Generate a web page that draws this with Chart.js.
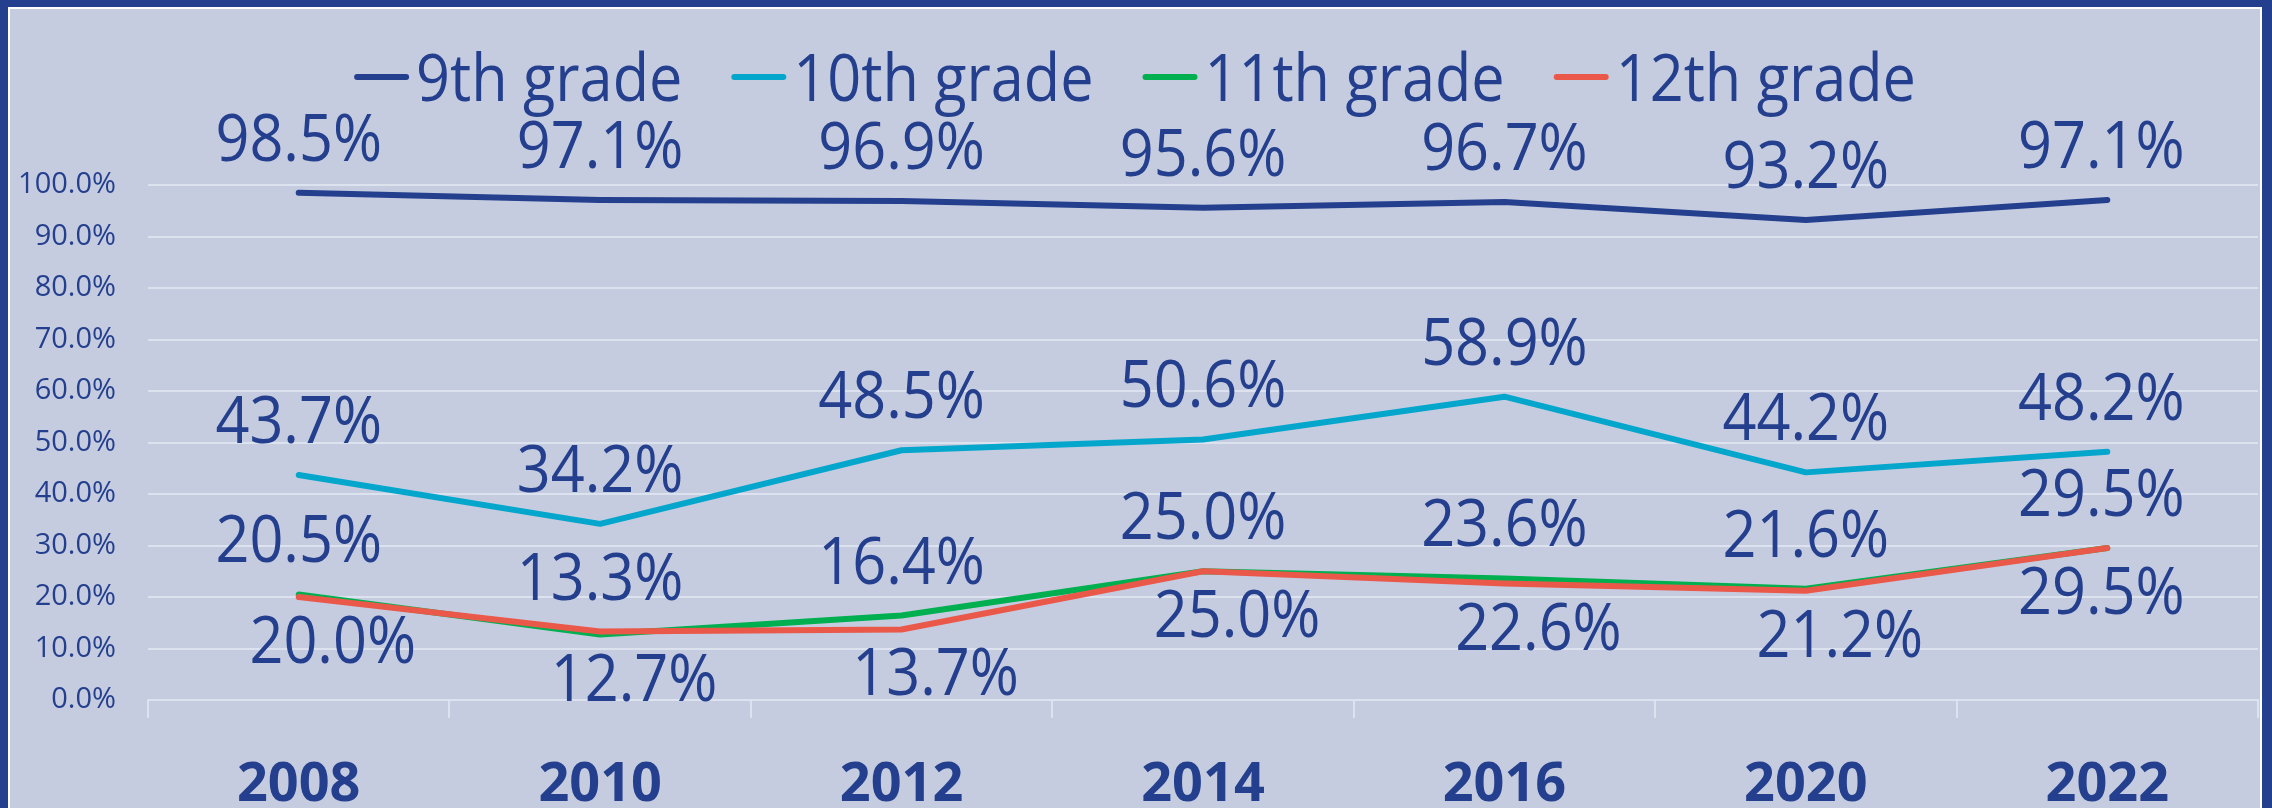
<!DOCTYPE html>
<html>
<head>
<meta charset="utf-8">
<script src="https://cdn.jsdelivr.net/npm/chart.js@4"></script>
<style>
  html, body { margin: 0; padding: 0; }
  body { width: 2272px; height: 808px; background: #243f8d; position: relative; overflow: hidden; }
  .frame { position: absolute; left: 8px; top: 7px; width: 2254px; height: 801px; box-sizing: border-box;
           border: 2px solid #ffffff; border-bottom: none; background: #c6cce0; }
  canvas { display: block; }
</style>
</head>
<body>
<div class="frame"><canvas id="chart" width="2250" height="799"></canvas></div>
<script>
// values
const years = ['2008', '2010', '2012', '2014', '2016', '2020', '2022'];
const grade9 = [98.5, 97.1, 96.9, 95.6, 96.7, 93.2, 97.1];
const grade10 = [43.7, 34.2, 48.5, 50.6, 58.9, 44.2, 48.2];
const grade11 = [20.5, 12.7, 16.4, 25.0, 23.6, 21.6, 29.5];
const grade12 = [20.0, 13.3, 13.7, 25.0, 22.6, 21.2, 29.5];
const seriesNames = ['9th grade', '10th grade', '11th grade', '12th grade'];
const yTicks = [0, 10, 20, 30, 40, 50, 60, 70, 80, 90, 100];

const TEXT = '#243f8d';
const GRID = '#dde2ef';
const FONT = '"Open Sans", "Noto Sans", sans-serif';
const colors = ['#243f8d', '#05a6cc', '#00b050', '#ea5849'];
const BIG = 66, SQUEEZE = 0.9;   // label / legend text, narrowed like the original

function squeezedText(ctx, text, x, y){
  ctx.save();
  ctx.translate(x, y);
  ctx.scale(SQUEEZE, 1);
  ctx.fillText(text, 0, 0);
  ctx.restore();
}

// value labels: 9th/10th above; for 11th/12th the higher one goes above, the lower one below and a bit right
const valueLabels = {
  id: 'valueLabels',
  afterDatasetsDraw(chart){
    const ctx = chart.ctx;
    const sets = chart.data.datasets;
    const last = chart.data.labels.length - 1;
    ctx.save();
    ctx.font = `400 ${BIG}px ${FONT}`;
    ctx.fillStyle = TEXT;
    ctx.textAlign = 'center';
    ctx.textBaseline = 'alphabetic';
    sets.forEach((ds, i) => {
      chart.getDatasetMeta(i).data.forEach((pt, j) => {
        const v = ds.data[j];
        let below = false;
        if (i === 2) below = v < sets[3].data[j];
        if (i === 3) below = v <= sets[2].data[j];
        // last column is nudged left to stay clear of the frame
        const x = j === last ? pt.x - 6 : (below ? pt.x + 34 : pt.x);
        const y = below ? pt.y + 66 : pt.y - 32;
        squeezedText(ctx, v.toFixed(1) + '%', x, y);
      });
    });
    ctx.restore();
  }
};

// legend drawn by hand: short thick line, then the name right after it
const lineLegend = {
  id: 'lineLegend',
  afterDraw(chart){
    const ctx = chart.ctx;
    const sets = chart.data.datasets;
    const lineLen = 55, gapIn = 7, gapOut = 49, lineY = 68, textY = 92;
    ctx.save();
    ctx.font = `400 ${BIG}px ${FONT}`;
    const widths = sets.map(ds => ctx.measureText(ds.label).width * SQUEEZE);
    const total = widths.reduce((a, w) => a + lineLen + gapIn + w, 0) + gapOut * (sets.length - 1);
    let x = chart.width / 2 - total / 2;
    sets.forEach((ds, i) => {
      ctx.strokeStyle = ds.borderColor;
      ctx.lineWidth = 6;
      ctx.lineCap = 'round';
      ctx.beginPath();
      ctx.moveTo(x + 3, lineY);
      ctx.lineTo(x + lineLen - 3, lineY);
      ctx.stroke();
      ctx.fillStyle = TEXT;
      ctx.textAlign = 'left';
      ctx.textBaseline = 'alphabetic';
      squeezedText(ctx, ds.label, x + lineLen + gapIn, textY);
      x += lineLen + gapIn + widths[i] + gapOut;
    });
    ctx.restore();
  }
};

const seriesData = [grade9, grade10, grade11, grade12];
const datasets = seriesData.map((d, i) => ({
  label: seriesNames[i],
  data: d,
  borderColor: colors[i],
  backgroundColor: colors[i],
  borderWidth: 6,
  pointRadius: 0,
  tension: 0,
  fill: false,
  borderCapStyle: 'round',
  borderJoinStyle: 'round',
  order: 4 - i
}));

new Chart(document.getElementById('chart').getContext('2d'), {
  type: 'line',
  data: { labels: years, datasets: datasets },
  options: {
    responsive: false,
    animation: false,
    devicePixelRatio: 1,
    layout: { padding: { top: 176, right: 2, left: 0, bottom: 0 } },
    plugins: { legend: { display: false }, tooltip: { enabled: false } },
    scales: {
      x: {
        offset: true,
        grid: { offset: true, drawOnChartArea: false, drawTicks: true, tickLength: 18, color: GRID, lineWidth: 2 },
        border: { display: true, color: GRID, width: 2 },
        ticks: { color: TEXT, font: { family: FONT, size: 54, weight: 'bold' }, padding: 35, maxRotation: 0 },
        afterFit(s){ s.height = 108; }
      },
      y: {
        min: yTicks[0],
        max: yTicks[yTicks.length - 1],
        afterBuildTicks(s){ s.ticks = yTicks.map(v => ({ value: v })); },
        grid: { color: GRID, lineWidth: 2, drawTicks: false },
        border: { display: false },
        ticks: { color: TEXT, font: { family: FONT, size: 29 }, padding: 32, callback: v => v.toFixed(1) + '%' },
        afterFit(s){ s.width = 138; }
      }
    }
  },
  plugins: [valueLabels, lineLegend]
});
</script>
</body>
</html>
